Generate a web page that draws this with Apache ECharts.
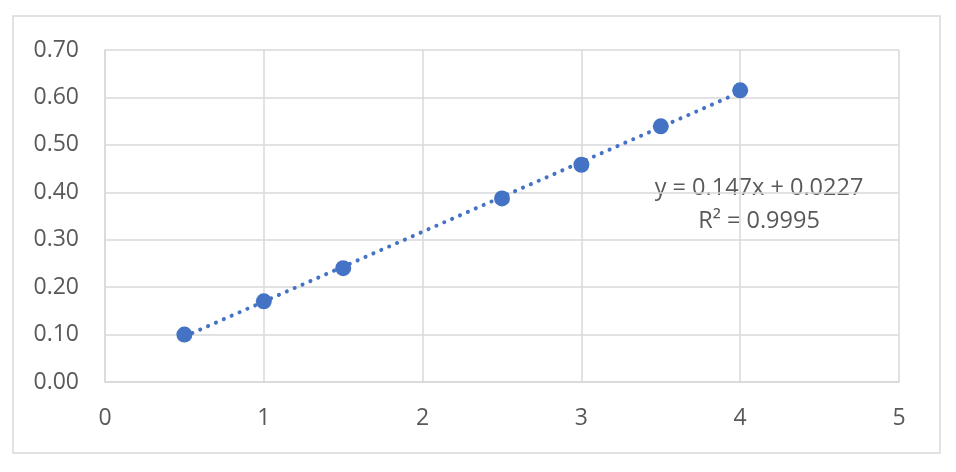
<!DOCTYPE html>
<html lang="en">
<head>
    <meta charset="UTF-8">
    <title>Scatter with trendline</title>
    <script src="https://cdn.jsdelivr.net/npm/echarts@6/dist/echarts.min.js"></script>
    <style>
        html, body { margin: 0; padding: 0; background: #fff; }
    </style>
</head>
<body>
    <div id="main" style="width: 956px;height:472px;"></div>

    <script>
        // measured points
        const xValues = [0.5, 1, 1.5, 2.5, 3, 3.5, 4]
        const yValues = [0.10, 0.17, 0.24, 0.387, 0.458, 0.539, 0.615]

        // linear trendline ends, as drawn
        const trendX = [0.5, 4]
        const trendY = [0.096, 0.611]

        const equationLines = ["y = 0.147x + 0.0227", "R² = 0.9995"]

        const font = "Open Sans"
        const textColor = "#595959"
        const gridColor = "#d9d9d9"
        const blue = "#4472c4"

        const mychart = echarts.init(document.getElementById("main"))
        const option = {
            animation: false,
            grid: { left: 105, top: 50, right: 57, bottom: 90 },
            xAxis: {
                type: "value",
                min: 0, max: 5, interval: 1,
                axisLine: { show: true, lineStyle: { color: gridColor, width: 1.5 } },
                axisTick: { show: false },
                axisLabel: { color: textColor, fontFamily: font, fontSize: 23, margin: 25 },
                splitLine: { show: true, lineStyle: { color: gridColor, width: 1.5 } }
            },
            yAxis: {
                type: "value",
                min: 0, max: 0.7, interval: 0.1,
                axisLine: { show: true, lineStyle: { color: gridColor, width: 1.5 } },
                axisTick: { show: false },
                axisLabel: {
                    color: textColor, fontFamily: font, fontSize: 23, margin: 26,
                    formatter: (v) => v.toFixed(2)
                },
                splitLine: { show: true, lineStyle: { color: gridColor, width: 1.5 } }
            },
            graphic: [
                {
                    type: "rect",
                    shape: { x: 13, y: 16, width: 927, height: 437 },
                    style: { fill: null, stroke: gridColor, lineWidth: 1.5 },
                    z: -1
                },
                {
                    type: "text",
                    x: 759, y: 188,
                    style: {
                        text: equationLines[0], fill: textColor, font: "23.5px " + font,
                        textAlign: "center", textVerticalAlign: "middle"
                    }
                },
                {
                    type: "text",
                    x: 759, y: 221,
                    style: {
                        text: equationLines[1], fill: textColor, font: "23.5px " + font,
                        textAlign: "center", textVerticalAlign: "middle"
                    }
                }
            ],
            series: [
                {
                    type: "line",
                    data: trendX.map((x, i) => [x, trendY[i]]),
                    showSymbol: false,
                    lineStyle: { color: blue, width: 4, type: [0.1, 8.5], cap: "round" },
                    z: 2
                },
                {
                    type: "scatter",
                    data: xValues.map((x, i) => [x, yValues[i]]),
                    symbolSize: 16,
                    itemStyle: { color: blue, opacity: 1 },
                    z: 3
                }
            ]
        }
        mychart.setOption(option)
    </script>
</body>
</html>
